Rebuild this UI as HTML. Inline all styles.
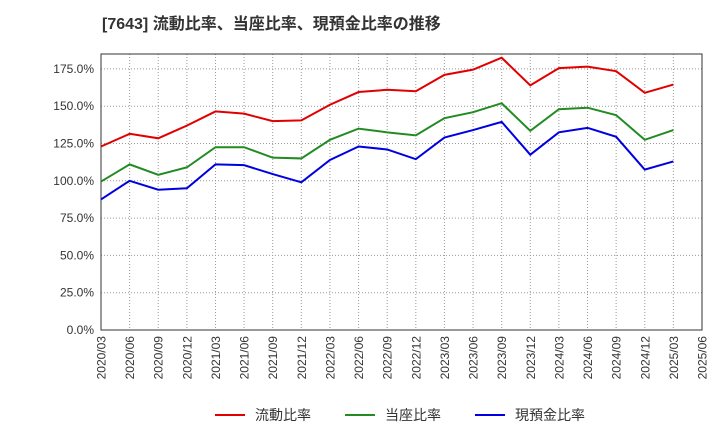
<!DOCTYPE html>
<html><head><meta charset="utf-8">
<style>
body{margin:0;background:#fff;font-family:"Liberation Sans","Noto Sans CJK JP",sans-serif;}
svg text{font-family:"Liberation Sans","Noto Sans CJK JP",sans-serif;}
</style></head>
<body>
<svg id="chart" width="720" height="440" xmlns="http://www.w3.org/2000/svg">
<text x="102" y="29" font-size="16" font-weight="bold" fill="#333">[7643]  流動比率、当座比率、現預金比率の推移</text>
<g id="grid"></g><g id="axes"></g><g id="series"></g><g id="legend"></g>
</svg>
<script>
const categories=["2020/03","2020/06","2020/09","2020/12","2021/03","2021/06","2021/09","2021/12","2022/03","2022/06","2022/09","2022/12","2023/03","2023/06","2023/09","2023/12","2024/03","2024/06","2024/09","2024/12","2025/03","2025/06"];
const currentRatio=[123,131.5,128.5,137,146.5,145,140,140.5,151,159.5,161,160,171,174.5,182.5,164,175.5,176.5,173.5,159,164.5];
const quickRatio=[99.5,111,104,109,122.5,122.5,115.5,115,127.5,135,132.5,130.5,142,146,152,133.5,148,149,144,127.5,134];
const cashRatio=[87.5,100,94,95,111,110.5,104.5,99,114,123,121,114.5,129,134,139.5,117.5,132.5,135.5,129.5,107.5,113];
const yTicks=[0,25,50,75,100,125,150,175];
const seriesNames=["流動比率","当座比率","現預金比率"];
const colors=["#e00000","#228b22","#0000e0"];
const L=101,R=702,T=54,B=330,yMax=185;
const NS="http://www.w3.org/2000/svg";
const xs=i=>L+(R-L)*i/(categories.length-1);
const ys=v=>B-(B-T)*v/yMax;
function mk(tag,attrs,parent){const e=document.createElementNS(NS,tag);for(const k in attrs)e.setAttribute(k,attrs[k]);document.getElementById(parent).appendChild(e);return e;}
mk("rect",{x:L,y:T,width:R-L,height:B-T,fill:"none",stroke:"#333","stroke-width":1},"axes");
categories.forEach((c,i)=>{
 const x=xs(i);
 const g=mk("line",{x1:x,x2:x,y1:T,y2:B,stroke:"#999","stroke-dasharray":"1,2"},"grid");
 
 
 const t=mk("text",{x:0,y:0,"font-size":12,fill:"#333","text-anchor":"end",transform:`translate(${x+4.5},${B+6}) rotate(-90)`},"axes");
 t.textContent=c;
 
 
});
yTicks.forEach(v=>{
 const y=ys(v);
 const g=mk("line",{x1:L,x2:R,y1:y,y2:y,stroke:"#999","stroke-dasharray":"1,2"},"grid");
 
 
 const t=mk("text",{x:L-7,y:y+4,"font-size":12,fill:"#333","text-anchor":"end"},"axes");
 t.textContent=v.toFixed(1)+"%";
 
 
});
[currentRatio,quickRatio,cashRatio].forEach((arr,si)=>{
 const p=mk("polyline",{points:arr.map((v,i)=>xs(i)+","+ys(v)).join(" "),fill:"none",stroke:colors[si],"stroke-width":2},"series");
 
 
 const lx=[215,345,475][si];
 const ll=mk("line",{x1:lx,x2:lx+30,y1:415,y2:415,stroke:colors[si],"stroke-width":2},"legend");
 
 
 const lt=mk("text",{x:lx+40,y:420,"font-size":14,fill:"#333"},"legend");
 lt.textContent=seriesNames[si];
 
 
});
</script>
</body></html>
